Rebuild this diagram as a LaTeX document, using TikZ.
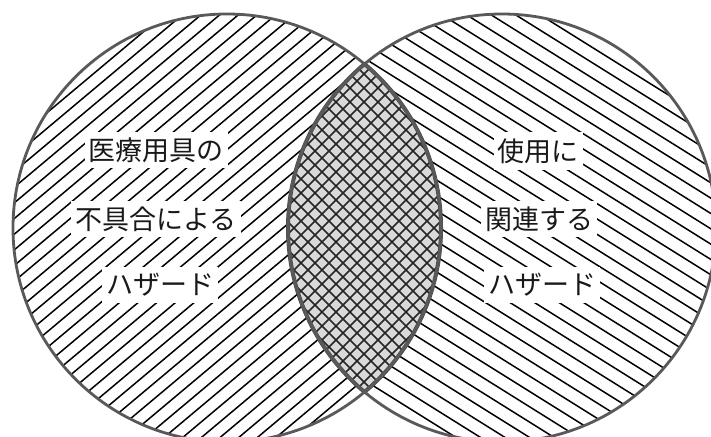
\documentclass[tikz,border=0pt]{standalone}
\usepackage{fontspec}
\usetikzlibrary{calc}
\newfontfamily\jp{Noto Sans CJK JP}
\tikzset{
  hatchline/.style={line width=1.5pt, black},
  crossline/.style={line width=1.7pt, black!85},
  rim/.style={line width=2.8pt, black!65},
  lensrim/.style={line width=4pt, black!70},
  label/.style={font=\jp\fontsize{27}{27}\selectfont, fill=white, inner xsep=4pt, inner ysep=6pt, text=black!90}
}
\begin{document}
\begin{tikzpicture}[x=1pt,y=1pt]
\clip (0,0) rectangle (711,-436);
\fill[white] (0,0) rectangle (711,-436);
\coordinate (cl) at (227,-228);
\coordinate (cr) at (502,-228);
% left circle hatching
\begin{scope}
  \clip (cl) circle (214pt);
  \begin{scope}[rotate around={40:(cl)}]
    \foreach \d in {-228,-216,...,228}
      \draw[hatchline] ($(cl)+(-240,\d)$) -- ++(480,0);
  \end{scope}
\end{scope}
% right circle hatching
\begin{scope}
  \clip (cr) circle (214pt);
  \begin{scope}[rotate around={-32:(cr)}]
    \foreach \d in {-228,-215,...,228}
      \draw[hatchline] ($(cr)+(-240,\d)$) -- ++(480,0);
  \end{scope}
\end{scope}
% lens
\begin{scope}
  \clip (cl) circle (214pt);
  \clip (cr) circle (214pt);
  \fill[black!15] (250,0) rectangle (480,-436);
  \foreach \d in {-266,-252,...,266}
    \draw[crossline] ($(364,-228)+(\d,0)+(-200,-200)$) -- ++(400,400);
  \foreach \d in {-266,-252,...,266}
    \draw[crossline] ($(364,-228)+(\d,0)+(-200,200)$) -- ++(400,-400);
\end{scope}
\begin{scope}
  \clip (cl) circle (214pt);
  \draw[lensrim] (cr) circle (214pt);
\end{scope}
\begin{scope}
  \clip (cr) circle (214pt);
  \draw[lensrim] (cl) circle (214pt);
\end{scope}
\draw[rim] (cl) circle (214pt);
\draw[rim] (cr) circle (214pt);
% labels
\node[label] (l1) at (156,-150) {医療用具の};
\node[label] (l2) at (156,-219) {不具合による};
\node[label] (l3) at (160,-285) {ハザード};
\node[label] (r1) at (538,-151) {使用に};
\node[label] (r2) at (539,-219) {関連する};
\node[label] (r3) at (542,-285) {ハザード};
\end{tikzpicture}
\end{document}
